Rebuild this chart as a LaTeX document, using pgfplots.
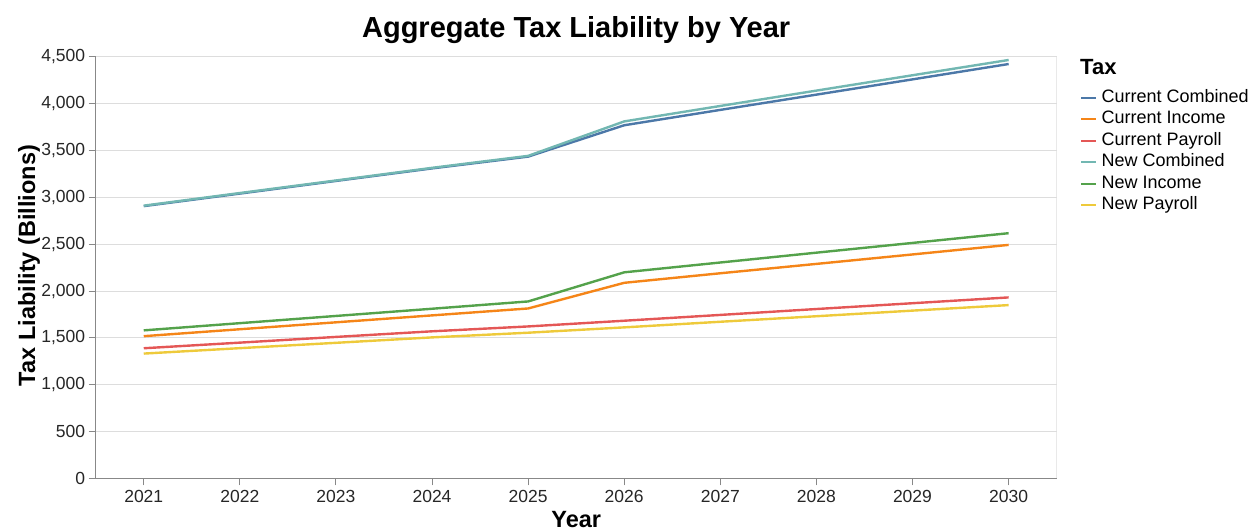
\documentclass[border=0pt]{standalone}
\usepackage{fontspec}
\setmainfont{Liberation Sans}
\usepackage{pgfplots}
\usepackage{pgfplotstable}
\pgfplotsset{compat=1.18}
\definecolor{cC}{HTML}{4C78A8}
\definecolor{cI}{HTML}{F58518}
\definecolor{cP}{HTML}{E45756}
\definecolor{nC}{HTML}{72B7B2}
\definecolor{nI}{HTML}{54A24B}
\definecolor{nP}{HTML}{EECA3B}
\definecolor{axisgray}{HTML}{888888}
\definecolor{gridgray}{HTML}{DDDDDD}
\pgfplotstableread{
year CC CI CP NC NI NP
2021 2907 1518 1389 2912 1580 1332
2022 3041 1592 1449 3047 1657 1390
2023 3176 1666 1510 3181 1734 1447
2024 3310 1740 1570 3316 1811 1505
2025 3436 1814 1622 3444 1889 1555
2026 3771 2088 1683 3812 2200 1612
2027 3935 2190 1745 3977 2305 1672
2028 4098 2290 1808 4141 2410 1731
2029 4261 2391 1870 4305 2514 1791
2030 4425 2493 1932 4468 2618 1850
}\datatable
\begin{document}
\begin{tikzpicture}
\useasboundingbox (0,0) rectangle (1251pt,529pt);
\begin{axis}[
  at={(95.7pt,50.7pt)}, anchor=south west,
  scale only axis, width=961pt, height=421.3pt,
  xmin=2020.5, xmax=2030.5, ymin=0, ymax=4500,
  xtick={2021,2022,...,2030}, ytick={0,500,...,4500},
  axis x line*=bottom, axis y line*=left,
  axis line style={-, color=axisgray, line width=1.2pt},
  tick align=outside, major tick length=7pt,
  tick style={color=axisgray, line width=1pt},
  ymajorgrids, grid style={color=gridgray, line width=1pt},
  /pgf/number format/assume math mode=true,
  x tick label style={/pgf/number format/1000 sep={}},
  y tick label style={/pgf/number format/1000 sep={,}},
  tick label style={font=\fontsize{17.5}{20}\selectfont, text=black!85},
  xticklabel style={yshift=-1pt},
  title={Aggregate Tax Liability by Year},
  title style={at={(0.5,1)}, anchor=base, yshift=13pt, inner sep=0pt,
    font=\bfseries\fontsize{29}{31}\selectfont},
  ylabel={Tax Liability (Billions)},
  ylabel style={at={(axis description cs:-0.0694,0.505)}, rotate=0, anchor=center,
    inner sep=0pt, font=\bfseries\fontsize{23.5}{26}\selectfont},
  xlabel={Year},
  xlabel style={at={(axis description cs:0.5,0)}, anchor=north, yshift=-32.5pt,
    inner sep=0pt, font=\bfseries\fontsize{23.5}{26}\selectfont},
  legend cell align=left,
  legend image code/.code={\draw[#1, line width=2pt] (0pt,0pt) -- (15pt,0pt);},
  legend style={at={(1.0242,0.9242)}, anchor=north west, draw=none, fill=none,
    inner sep=0pt, row sep=4.5pt,
    font=\fontsize{18}{20}\selectfont,
    nodes={inner sep=0pt, text height=13pt, text depth=4pt},
    /tikz/every odd column/.append style={column sep=4.5pt}},
  every axis plot/.append style={line width=2.4pt, line join=round},
]
\addplot[cC, no markers] table[x=year, y=CC] {\datatable};
\addlegendentry{Current Combined}
\addplot[cI, no markers] table[x=year, y=CI] {\datatable};
\addlegendentry{Current Income}
\addplot[cP, no markers] table[x=year, y=CP] {\datatable};
\addlegendentry{Current Payroll}
\addplot[nC, no markers] table[x=year, y=NC] {\datatable};
\addlegendentry{New Combined}
\addplot[nI, no markers] table[x=year, y=NI] {\datatable};
\addlegendentry{New Income}
\addplot[nP, no markers] table[x=year, y=NP] {\datatable};
\addlegendentry{New Payroll}
\draw[gridgray, line width=1pt] (rel axis cs:1,0) -- (rel axis cs:1,1);
\end{axis}
\node[anchor=base west, inner sep=0pt, font=\bfseries\fontsize{22}{24}\selectfont] at (1080pt,454pt) {Tax};
\end{tikzpicture}
\end{document}
